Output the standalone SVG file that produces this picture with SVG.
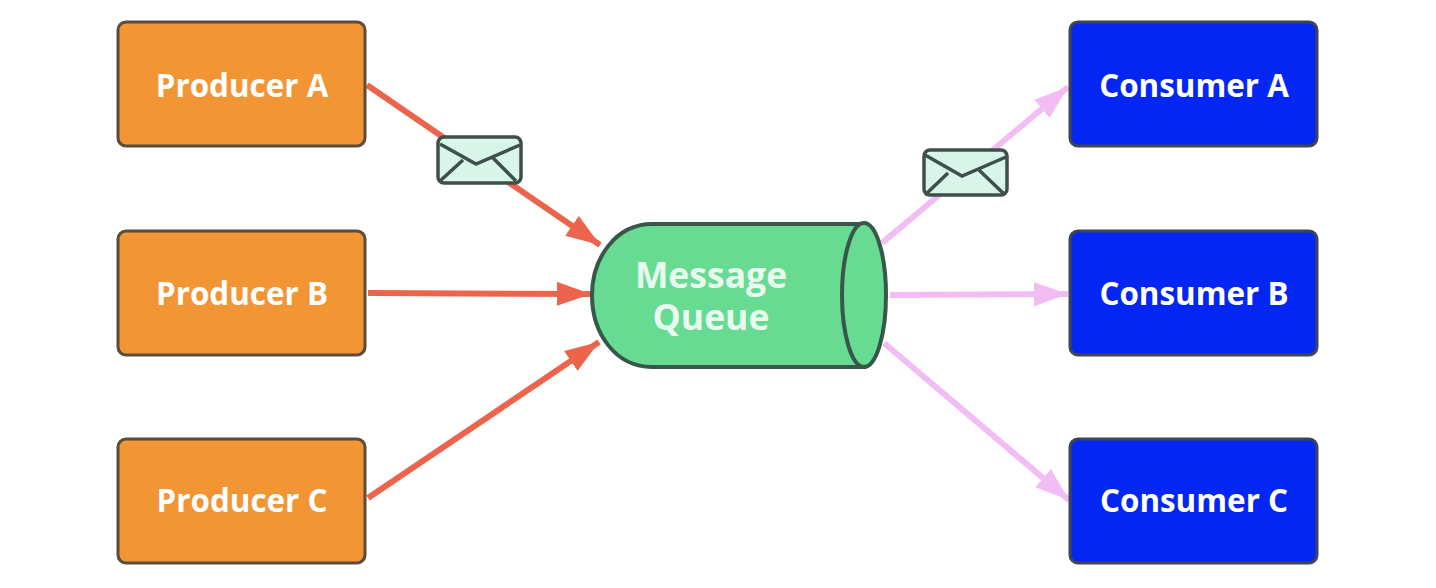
<svg xmlns="http://www.w3.org/2000/svg" width="1436" height="588" viewBox="0 0 1436 588">
<style>
text{font-family:"Open Sans","Noto Sans",sans-serif;font-weight:700;fill:#fff;text-anchor:middle;font-size:31.4px}
.prod rect{fill:#f19535;stroke:#5a4d3c;stroke-width:3}
.cons rect{fill:#0426f2;stroke:#3d4650;stroke-width:3}
.red{stroke:#ec644b;stroke-width:6;fill:none;marker-end:url(#ra)}
.pink{stroke:#f2bdf5;stroke-width:6;fill:none;marker-end:url(#pa)}
.mail rect{fill:#d9f5e9;stroke:#3f4f4a;stroke-width:3.5}
.mail path{fill:none;stroke:#3f4f4a;stroke-width:3.5}
.q{fill:#67db92;stroke:#37574a;stroke-width:4}
.ql{fill:#e9fbf0;font-size:35.5px}
</style>
<defs>
<marker id="ra" markerUnits="userSpaceOnUse" markerWidth="36" markerHeight="28" refX="34" refY="12" orient="auto"><path d="M0 0L34 12L0 24Z" fill="#ec644b"/></marker>
<marker id="pa" markerUnits="userSpaceOnUse" markerWidth="36" markerHeight="28" refX="34" refY="12" orient="auto"><path d="M0 0L34 12L0 24Z" fill="#f2bdf5"/></marker>
</defs>
<rect width="1436" height="588" fill="#fff"/>
<g id="connectors">
<path class="red" d="M367 85L600 245"/>
<path class="red" d="M368 293L591 294"/>
<path class="red" d="M368 498L599 342"/>
<path class="pink" d="M882 243L1068 87"/>
<path class="pink" d="M890 295L1068 294"/>
<path class="pink" d="M884 343L1069 500"/>
</g>
<g id="producer-a" class="prod"><rect x="118" y="22" width="247" height="124" rx="8"/><text x="242" y="97">Producer A</text></g>
<g id="producer-b" class="prod"><rect x="118" y="231" width="247" height="124" rx="8"/><text x="242" y="305">Producer B</text></g>
<g id="producer-c" class="prod"><rect x="118" y="439" width="247" height="124" rx="8"/><text x="242" y="512">Producer C</text></g>
<g id="consumer-a" class="cons"><rect x="1070" y="22" width="247" height="124" rx="8"/><text x="1194" y="97">Consumer A</text></g>
<g id="consumer-b" class="cons"><rect x="1070" y="231" width="247" height="124" rx="8"/><text x="1194" y="305">Consumer B</text></g>
<g id="consumer-c" class="cons"><rect x="1070" y="439" width="247" height="124" rx="8"/><text x="1194" y="512">Consumer C</text></g>
<g id="message-queue">
<path class="q" d="M864 224H652C616 224 592 258 592 295C592 334 616 367 652 367H864Z"/>
<ellipse class="q" cx="864" cy="295" rx="22" ry="72"/>
<text class="ql" x="711" y="288">Message</text>
<text class="ql" x="711" y="330">Queue</text>
</g>
<g id="mail-1" class="mail"><rect x="438" y="137" width="83" height="46" rx="6"/><path d="M440 144L476 164L520 145M463 160L440 181M492 157L516 181"/></g>
<g id="mail-2" class="mail"><rect x="924" y="150" width="83" height="45" rx="6"/><path d="M925 155L962 176L1006 157M948 173L925 195M979 170L1004 194"/></g>
</svg>
